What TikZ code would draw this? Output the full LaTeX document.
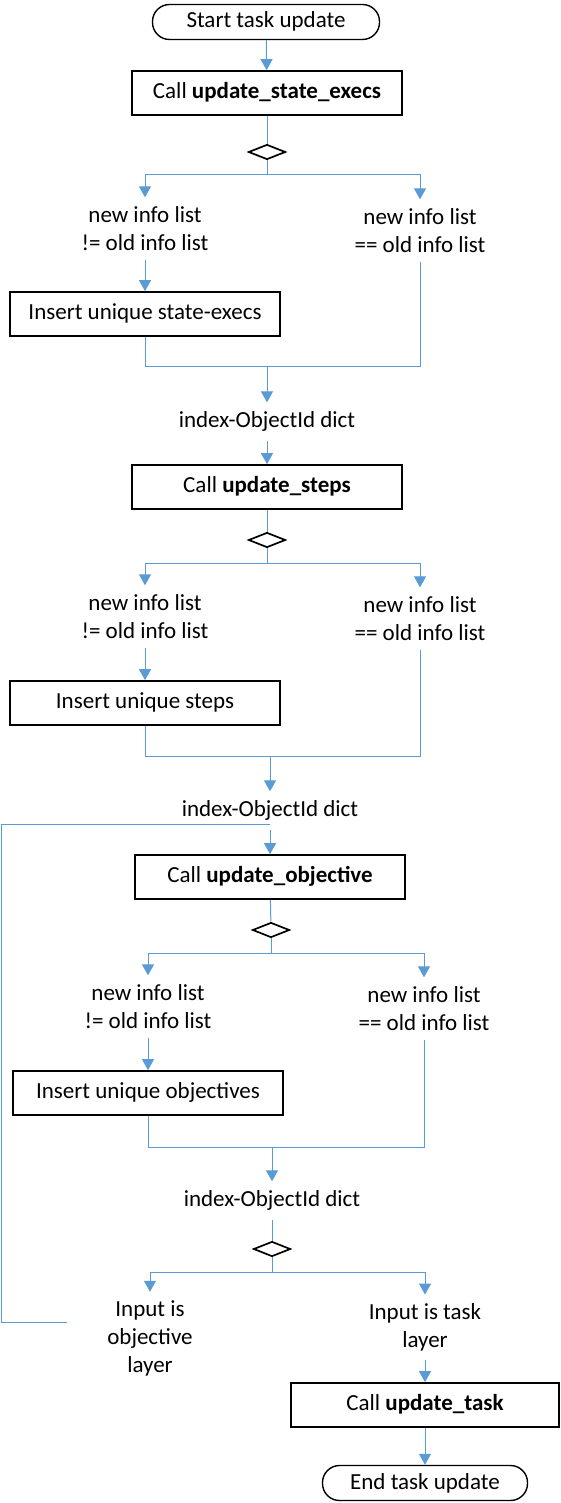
\documentclass[tikz,border=0pt]{standalone}
\usepackage{fontspec}
\setmainfont{Carlito}
\usetikzlibrary{shapes.geometric,arrows.meta}
\definecolor{lineblue}{HTML}{5B9BD5}
\begin{document}
\begin{tikzpicture}[x=1pt,y=-1pt,
  every node/.style={font=\fontsize{23}{27.8}\selectfont},
  conn/.style={draw=lineblue, line width=1pt},
  arr/.style={conn, -{Triangle[width=12pt,length=11pt]}},
  procbox/.style={draw=black, line width=1.7pt, minimum width=270pt, minimum height=44pt, inner sep=0pt, text height=15pt, text depth=4pt},
  term/.style={draw=black, line width=1.4pt, rounded corners=17pt, minimum height=35pt, inner sep=0pt, text height=15pt, text depth=3pt},
  dec/.style={draw=black, line width=1.7pt, diamond, aspect=2.5, minimum width=37pt, minimum height=15pt, inner sep=0pt},
  lbl/.style={align=center, inner xsep=2pt, inner ysep=9pt, yshift=-2.5pt}
]
\useasboundingbox (0,0) rectangle (560,1503);

% stage 1
\node[term, minimum width=227pt] (start) at (266,22) {Start task update};
\node[procbox] (c1) at (267,93) {Call \textbf{update\_state\_execs}};
\node[dec] (d1) at (267,152) {};
\coordinate (b1) at (267,175);
\node[lbl] (l1) at (145,226) {new info list\\!= old info list};
\node[lbl] (r1) at (420,228) {new info list\\== old info list};
\node[procbox] (i1) at (145,314) {Insert unique state-execs};
\coordinate (m1) at (267,366);
\node[lbl] (x1) at (267,419) {index-ObjectId dict};

% stage 2
\node[procbox] (c2) at (267,487) {Call \textbf{update\_steps}};
\node[dec] (d2) at (267,540) {};
\coordinate (b2) at (267,563);
\node[lbl] (l2) at (145,614) {new info list\\!= old info list};
\node[lbl] (r2) at (420,616) {new info list\\== old info list};
\node[procbox] (i2) at (145,703) {Insert unique steps};
\coordinate (m2) at (270,756);
\node[lbl] (x2) at (270,808) {index-ObjectId dict};
\coordinate (j) at (270,824);

% stage 3
\node[procbox] (c3) at (270,877) {Call \textbf{update\_objective}};
\node[dec] (d3) at (271,930) {};
\coordinate (b3) at (271,953);
\node[lbl] (l3) at (148,1004) {new info list\\!= old info list};
\node[lbl] (r3) at (424,1006) {new info list\\== old info list};
\node[procbox] (i3) at (148,1093) {Insert unique objectives};
\coordinate (m3) at (272,1147);
\node[lbl] (x3) at (272,1198) {index-ObjectId dict};

% final decision
\node[dec] (d4) at (272,1249) {};
\coordinate (b4) at (272,1272);
\node[lbl] (ob) at (150,1336) {Input is\\objective\\layer};
\node[lbl] (tl) at (425,1325) {Input is task\\layer};
\node[procbox, minimum width=268pt] (c7) at (425,1405) {Call \textbf{update\_task}};
\node[term, minimum width=205pt] (endn) at (425,1483) {End task update};
\coordinate (lpa) at (67,1322);
\coordinate (lpb) at (1,1322);

% connectors
\draw[arr] (start) -- (c1);
\draw[conn] (c1) -- (d1);
\draw[conn] (d1) -- (b1);
\draw[arr] (b1) -| (l1);
\draw[arr] (b1) -| (r1);
\draw[arr] (l1) -- (i1);
\draw[conn] (i1) |- (m1);
\draw[conn] (r1) |- (m1);
\draw[arr] (m1) -- (m1 |- x1.north);
\draw[arr] (x1) -- (c2);

\draw[conn] (c2) -- (d2);
\draw[conn] (d2) -- (b2);
\draw[arr] (b2) -| (l2);
\draw[arr] (b2) -| (r2);
\draw[arr] (l2) -- (i2);
\draw[conn] (i2) |- (m2);
\draw[conn] (r2) |- (m2);
\draw[arr] (m2) -- (x2);
\draw[arr] (x2) -- (c3);
\draw[conn] (lpa) -- (lpb) |- (j);

\draw[conn] (c3) -- (d3);
\draw[conn] (d3) -- (b3);
\draw[arr] (b3) -| (l3);
\draw[arr] (b3) -| (r3);
\draw[arr] (l3) -- (i3);
\draw[conn] (i3) |- (m3);
\draw[conn] (r3) |- (m3);
\draw[arr] (m3) -- (x3);
\draw[conn] (x3) -- (d4);

\draw[conn] (d4) -- (b4);
\draw[arr] (b4) -| (ob);
\draw[arr] (b4) -| (tl);
\draw[arr] (tl) -- (c7);
\draw[arr] (c7) -- (endn);
\end{tikzpicture}
\end{document}
